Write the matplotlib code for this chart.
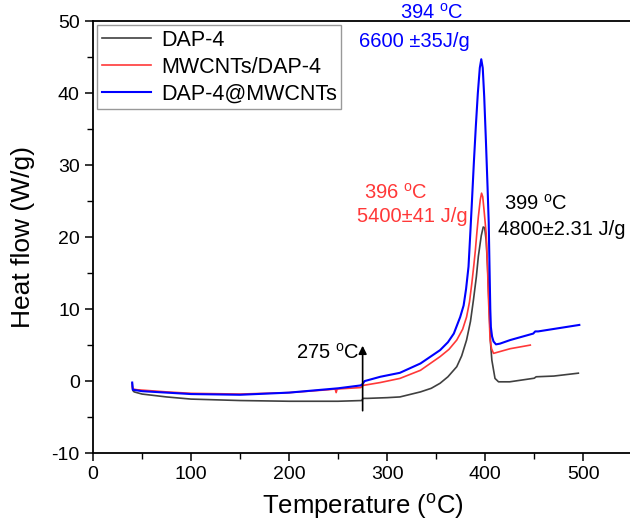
import matplotlib
matplotlib.use("Agg")
from matplotlib import pyplot as plt
from matplotlib.ticker import MultipleLocator

plt.rcParams["font.family"] = ["Liberation Sans", "DejaVu Sans"]
plt.rcParams["mathtext.fontset"] = "custom"
plt.rcParams["mathtext.rm"] = "Liberation Sans"
plt.rcParams["axes.unicode_minus"] = False

# DAP-4
t_dap = [40, 40.6, 42, 50, 75, 100, 150, 200, 250, 274, 275.5, 280, 300, 313, 334,
         345, 354, 362, 371, 376, 381, 385, 388, 391, 393, 396, 398, 399.5, 401,
         402.4, 404.4, 405.6, 406.8, 410, 413.6, 425, 440, 450, 452, 470, 495]
h_dap = [-0.3, -1.3, -1.5, -1.8, -2.2, -2.5, -2.7, -2.8, -2.8, -2.7, -2.4, -2.4, -2.3, -2.2, -1.5,
         -1.0, -0.3, 0.6, 2.0, 3.5, 5.7, 8.3, 11.25, 14.5, 17.3, 20.2, 21.4, 21.3, 19.5,
         15.9, 8.9, 5.0, 2.9, 0.37, -0.1, -0.1, 0.2, 0.4, 0.6, 0.7, 1.1]

# MWCNTs/DAP-4
t_mw = [40, 40.6, 45, 75, 100, 150, 200, 240, 247, 248, 249, 273, 275.5, 293, 313,
        334, 354, 363, 371, 377, 381, 384, 386.4, 388.5, 390, 391.5, 393, 395, 396.3,
        397.5, 399, 401, 402.3, 403.4, 405, 406.5, 408.5, 415, 425.5, 446]
h_mw = [-0.7, -1.1, -1.2, -1.5, -1.7, -1.8, -1.6, -1.2, -1.1, -1.6, -1.1, -0.9, -0.6, -0.2, 0.37,
        1.5, 3.4, 4.4, 5.7, 7.2, 8.9, 11.0, 13.6, 16.2, 18.2, 20.6, 22.8, 25.2, 26.1,
        25.6, 23.5, 20.5, 16.0, 11.25, 5.7, 4.5, 3.85, 4.1, 4.5, 5.0]

# DAP-4@MWCNTs
t_at = [40, 40.6, 50, 100, 150, 200, 250, 273, 275, 277, 293, 313, 334, 354, 362,
        368, 374.5, 378, 380.5, 383, 385, 386.5, 388.5, 390.5, 392.5, 394.5, 396,
        397.5, 399, 400.7, 402.4, 403.6, 404.4, 405.2, 405.8, 407, 408.5, 411, 415,
        425.5, 449, 451, 454, 496]
h_at = [-0.2, -1.2, -1.4, -1.8, -1.9, -1.6, -1.0, -0.6, -0.4, 0.0, 0.6, 1.15, 2.45, 4.3, 5.4,
        6.6, 8.9, 10.5, 12.8, 15.9, 21.0, 25.0, 30.5, 35.5, 40.0, 43.5, 44.7,
        43.5, 39.5, 33.5, 27.0, 22.0, 15.9, 10.0, 7.5, 6.2, 5.5, 5.1, 5.2,
        5.7, 6.6, 6.9, 6.9, 7.8]

labels = ["DAP-4", "MWCNTs/DAP-4", "DAP-4@MWCNTs"]
colors = ["#404040", "#ff3838", "#0000ff"]

fig = plt.figure(figsize=(6.3, 5.22), dpi=100)
ax = fig.add_axes([0.1476, 0.132, 0.856, 0.8276])

ax.plot(t_dap, h_dap, color=colors[0], lw=1.2, label=labels[0])
ax.plot(t_mw, h_mw, color=colors[1], lw=1.2, label=labels[1])
ax.plot(t_at, h_at, color=colors[2], lw=1.5, label=labels[2])

ax.set_xlim(0, 550)
ax.set_ylim(-10, 50)
ax.xaxis.set_major_locator(MultipleLocator(100))
ax.xaxis.set_minor_locator(MultipleLocator(50))
ax.yaxis.set_major_locator(MultipleLocator(10))
ax.yaxis.set_minor_locator(MultipleLocator(5))
ax.tick_params(which="major", direction="out", length=6, width=1.1, labelsize=14)
ax.tick_params(which="minor", direction="out", length=4, width=1.0)
ax.spines["right"].set_visible(False)
for s in ["left", "bottom", "top"]:
    ax.spines[s].set_linewidth(1.3)

ax.set_xlabel("Temperature ($^{\\rm o}$C)", fontsize=18.5, labelpad=6)
ax.set_ylabel("Heat flow (W/g)", fontsize=19, labelpad=12)

leg = ax.legend(loc="upper left", fontsize=15.5, frameon=True, fancybox=False,
                edgecolor="#808080", handlelength=2.3, borderpad=0.2,
                labelspacing=0.28, handletextpad=0.45, borderaxespad=0.2)
leg.get_frame().set_linewidth(1.0)

# arrow at 275 C
ax.annotate("", xy=(275, 5.3), xytext=(275, -4.5),
            arrowprops=dict(arrowstyle="-|>", color="black", lw=1.2,
                            mutation_scale=12))
ax.text(272, 3.9, "275 $^{\\rm o}$C", fontsize=14.5, ha="right", va="center")

# peak labels
ax.text(345, 51.2, "394 $^{\\rm o}$C", color=colors[2], fontsize=14.5, ha="center", va="center")
ax.text(328, 47.2, "6600 \u00b135J/g", color=colors[2], fontsize=14.5, ha="center", va="center")
ax.text(309, 26.1, "396 $^{\\rm o}$C", color=colors[1], fontsize=14.5, ha="center", va="center")
ax.text(325.5, 22.8, "5400\u00b141 J/g", color=colors[1], fontsize=14.5, ha="center", va="center")
ax.text(452, 24.7, "399 $^{\\rm o}$C", color="black", fontsize=14.5, ha="center", va="center")
ax.text(413, 21.0, "4800\u00b12.31 J/g", color="black", fontsize=14.5, ha="left", va="center")

fig.savefig("out.png", dpi=100)
